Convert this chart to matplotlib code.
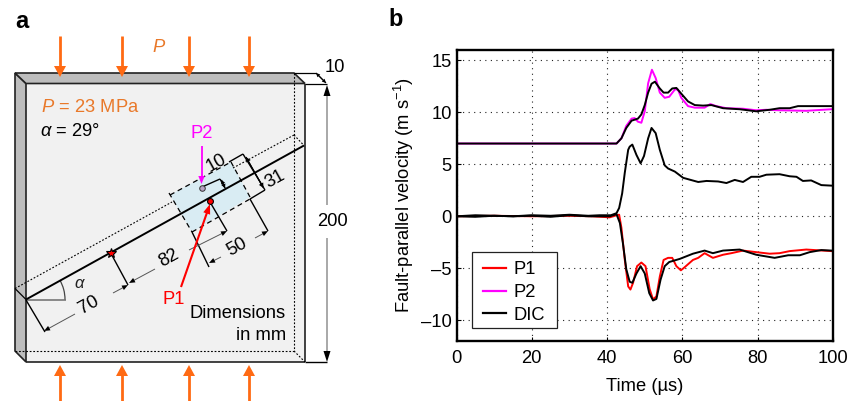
import numpy as np
import matplotlib
matplotlib.use("Agg")
import matplotlib.pyplot as plt
from matplotlib.patches import Polygon, Arc, Rectangle

plt.rcParams['font.family'] = ['Liberation Sans', 'DejaVu Sans']
plt.rcParams['mathtext.fontset'] = 'custom'
plt.rcParams['mathtext.rm'] = 'Liberation Sans'
plt.rcParams['mathtext.it'] = 'Liberation Sans:italic'
plt.rcParams['mathtext.default'] = 'regular'

# ---- data, panel b ----
t_p1 = [0, 10, 20, 30, 36, 40.7, 42.5, 43.2, 43.8, 44.7, 45.6, 46.2, 46.9, 47.96, 49.1, 50.2, 51.3, 52.2, 53.1, 54, 55,
        56.2, 57.3, 58.4, 59.6, 60.6, 62.8, 64.2, 65.9, 68.1, 70.8, 73, 76.1, 79.6, 83.2, 85.8, 88.5, 92.9, 99.6]
v_p1 = [0, 0.05, 0.0, 0.05, 0.0, -0.1, 0.1, 0.15, -1.1, -4.2, -6.75, -7.05, -6.4, -4.8, -4.45, -4.8, -7.0, -8.0, -7.7,
        -5.8, -4.2, -4.0, -4.0, -4.8, -5.2, -4.9, -4.2, -4.0, -3.55, -4.0, -3.7, -3.55, -3.3, -3.45, -3.6, -3.55,
        -3.35, -3.2, -3.35]
t_p2 = [0, 20, 40, 42.5, 43.8, 45.1, 46.5, 47.3, 48.2, 49.1, 50, 50.9, 51.9, 52.9, 54, 55.3, 56.5, 58, 58.8, 59.7,
        61.5, 63.3, 65.9, 67.4, 69, 71.7, 76.1, 79.6, 82.3, 85.8, 92.9, 99.6]
v_p2 = [7.0, 7.0, 7.0, 7.0, 7.5, 8.7, 9.4, 9.45, 9.1, 9.0, 10.1, 12.8, 14.1, 13.3, 11.9, 11.4, 11.5, 12.2, 12.2, 11.4,
        10.6, 10.45, 10.45, 10.8, 10.6, 10.4, 10.35, 10.2, 10.25, 10.2, 10.15, 10.3]
t_dic_top = [0, 20, 40, 42.5, 43.8, 45.1, 46.5, 48.2, 49.1, 50, 50.9, 51.8, 52.7, 54, 55, 56.2, 57.3, 58.4, 59.7, 61.5,
             63.3, 65.5, 67.7, 70.8, 75.2, 79.6, 83.2, 85.8, 88.5, 90.7, 94.7, 99.6]
v_dic_top = [7.0, 7.0, 7.0, 7.0, 7.5, 8.5, 9.2, 9.4, 9.8, 10.7, 11.9, 12.75, 12.95, 12.3, 11.9, 11.9, 12.3, 12.35, 11.8,
             11.05, 10.7, 10.65, 10.7, 10.4, 10.3, 10.1, 10.25, 10.4, 10.4, 10.6, 10.6, 10.6]
t_dic_mid = [0, 5, 10, 15, 20, 25, 30, 35, 38, 41, 42.5, 43.2, 44, 44.7, 45.6, 46, 46.7, 47.8, 48.9, 49.8, 50.9, 51.8,
             52.9, 54, 55.3, 56.2, 58, 60.2, 64.2, 66.4, 69.5, 71.7, 73.9, 76.1, 78.3, 80.5, 82.3, 85.8, 88.5, 90.3,
             92, 94.2, 96.9, 99.6]
v_dic_mid = [0.0, 0.1, 0.05, 0.0, 0.1, 0.05, 0.15, 0.05, 0.1, 0.1, 0.3, 0.8, 2.2, 4.2, 6.4, 6.7, 6.9, 5.9, 5.1, 5.8,
             7.5, 8.5, 8.0, 6.4, 4.9, 4.6, 4.3, 3.7, 3.3, 3.4, 3.35, 3.2, 3.5, 3.3, 3.8, 3.8, 4.0, 4.05, 3.85, 3.8,
             3.4, 3.45, 3.0, 2.95]
t_dic_low = [0, 5, 10, 15, 20, 25, 30, 35, 40.7, 42.5, 43.4, 44.2, 45.1, 46, 46.7, 47.8, 48.9, 50, 51.2, 52.2, 53.1,
             54.2, 55.3, 56.5, 59.3, 62.8, 65.9, 68.1, 70.8, 75.2, 79.6, 84.5, 88.1, 91.2, 93.8, 96.9, 99.6]
v_dic_low = [0.0, -0.05, 0.05, 0.0, 0.05, -0.05, 0.1, 0.0, 0.0, 0.2, -0.65, -2.6, -5.1, -6.3, -6.4, -5.5, -4.8, -5.5,
             -7.4, -8.1, -7.95, -6.1, -4.8, -4.4, -4.1, -3.6, -3.3, -3.55, -3.3, -3.2, -3.7, -4.0, -3.75, -3.75,
             -3.45, -3.25, -3.3]
x_ticks = [0, 20, 40, 60, 80, 100]
y_ticks = [-10, -5, 0, 5, 10, 15]
series_labels = ['P1', 'P2', 'DIC']

# ---- schematic geometry, panel a (figure pixels) ----
arrow_xs = [60, 122, 189, 249]
dim_labels = [('70', 89, 305), ('82', 169, 258), ('50', 237, 247), ('31', 275, 179), ('10', 216, 163)]

W, H = 848, 401
fig = plt.figure(figsize=(W / 100, H / 100), dpi=100)
FS = 13.2
ORANGE, ORANGE_T = '#ff6a13', '#e9792a'
RED, MAG = '#ff0000', '#ff00ff'

a = fig.add_axes([0, 0, 1, 1])
a.set_xlim(0, W); a.set_ylim(H, 0); a.axis('off')


def line(p, q, c='k', lw=1.0, ls='-', z=3):
    a.plot([p[0], q[0]], [p[1], q[1]], color=c, lw=lw, ls=ls, zorder=z, solid_capstyle='butt')


def head(tip, frm, c='k', hl=7, hw=3, z=5):
    tip, frm = np.array(tip, float), np.array(frm, float)
    u = (tip - frm) / np.linalg.norm(tip - frm)
    n = np.array([-u[1], u[0]])
    a.add_patch(Polygon([tip, tip - u * hl + n * hw, tip - u * hl - n * hw], closed=True, fc=c, ec='none', zorder=z))


def arrow(frm, tip, c='k', lw=1.0, hl=7, hw=3, z=5, hc=None):
    frm, tip = np.array(frm, float), np.array(tip, float)
    u = (tip - frm) / np.linalg.norm(tip - frm)
    line(frm, tip - u * (hl - 1), c, lw, z=z)
    head(tip, frm, hc or c, hl, hw, z)


DOT = (0, (1.6, 1.6))
DASH = (0, (4, 3))
GR = '#555555'

# block
a.add_patch(Polygon([(26, 83.5), (305, 83.5), (305, 362), (26, 362)], fc='#f1f1f1', ec='none', zorder=1))
a.add_patch(Polygon([(15, 73), (26, 83.5), (26, 362), (15, 351)], fc='#bdbdbd', ec='#222222', lw=1.2, zorder=2))
a.add_patch(Polygon([(15, 73), (294, 73), (305, 83.5), (26, 83.5)], fc='#bdbdbd', ec='#222222', lw=1.2, zorder=2))
line((305, 83.5), (305, 362), '#222222', 1.2)
line((26, 362), (305, 362), '#222222', 1.2)
line((294, 73), (294, 351), 'k', 0.8, DOT)
line((15, 351), (294, 351), 'k', 0.8, DOT)
line((294, 351), (305, 362), 'k', 0.8, DOT)
a.add_patch(Polygon([(170, 195), (231, 162), (250, 197), (192, 232)], fc='#d9ecf3', ec='none', zorder=2))

# fault and dashed planes
line((15, 288.5), (26, 299.5), 'k', 0.9)
line((26, 299.5), (304, 145.5), 'k', 1.4, z=4)
line((15, 288.5), (172, 202), 'k', 0.8, DOT)
line((233, 168), (294, 135), 'k', 0.8, DOT)
line((294, 135), (304, 145.5), 'k', 0.8, DOT)
line((170, 195), (231, 162), 'k', 0.9, DASH)
line((192, 232), (250, 199), 'k', 0.9, DASH)
line((169, 193), (192, 232), 'k', 0.9, DASH)
line((231, 162), (250, 197), 'k', 0.9, DASH)

# angle
line((26, 299.5), (66, 299.5), '#777777', 1.2)
a.add_patch(Arc((26, 299.5), 78, 78, theta1=-30, theta2=0, color='#444444', lw=0.9, zorder=3))

# dimension lines
line((26, 300), (45, 332))
line((110.7, 253), (128, 285))
line((210, 202), (227, 231))
line((192, 232), (209, 267))
line((250, 199), (268, 231))
line((229, 162), (243, 154))
line((243, 154), (265, 190))
line((250, 199), (265, 190))
line((202, 187), (220, 179))
line((220, 179), (225, 188))
HK = dict(lw=0.7, hl=6, hw=2.5, hc='k')
arrow((75, 314), (44, 331), GR, **HK)
arrow((113, 293), (128, 285), GR, **HK)
arrow((155, 269), (129, 283), GR, **HK)
arrow((189, 250), (227, 231), GR, **HK)
arrow((221, 257), (209, 263), GR, **HK)
arrow((255, 238), (268, 231), GR, **HK)
arrow((263.5, 188), (246, 157), 'k', 0.8, 5, 2.5)
arrow((246, 157), (263.5, 188), 'k', 0.8, 5, 2.5)
arrow((225, 188), (221.5, 180), 'k', 0.8, 4, 2.2)
arrow((221.5, 180), (225, 188), 'k', 0.8, 4, 2.2)

# outer dimensions
line((294, 72.5), (316, 72.5), 'k', 0.9)
line((305, 83.5), (327, 83.5), 'k', 0.9)
arrow((326, 83), (316, 73), 'k', 0.8, 4, 2)
arrow((316, 73), (326, 83), 'k', 0.8, 4, 2)
line((305, 362), (327, 362), 'k', 1.0)
arrow((327, 205), (327, 85), '#999999', 1.2, 11, 3.5, z=3, hc='k')
arrow((327, 238), (327, 362), '#999999', 1.2, 11, 3.5, z=3, hc='k')

# load arrows
for x in arrow_xs:
    arrow((x, 36), (x, 77), ORANGE, 2.0, 11, 6)
    arrow((x, 401), (x, 365), ORANGE, 2.0, 11, 6)

# points
arrow((201.5, 146), (201.5, 184), MAG, 1.3, 8, 3.2, z=6)
a.plot([202], [188], 'o', ms=4, mfc='#b7a2c4', mec='#333333', mew=0.7, zorder=6)
a.plot([110.7], [252.5], marker='*', ms=7, mfc=RED, mec='k', mew=0.8, zorder=6)
a.plot([210], [201], 'o', ms=4.2, mfc=RED, mec='k', mew=0.8, zorder=6)
arrow((181, 287), (210, 204), RED, 1.5, 10, 3.6, z=6)

# texts
tk = dict(ha='center', va='center', fontsize=FS, zorder=8)
a.text(15, 21, 'a', ha='left', va='center', fontsize=17, fontweight='bold')
a.text(388, 20, 'b', ha='left', va='center', fontsize=17, fontweight='bold')
a.text(159, 48, 'P', color=ORANGE_T, style='italic', **tk)
a.text(41, 107, '$\\mathit{P}$ = 23 MPa', color=ORANGE_T, ha='left', va='center', fontsize=FS)
a.text(40, 132, '$\\mathit{\\alpha}$ = 29°', color='k', ha='left', va='center', fontsize=FS,
       fontfamily=['Liberation Sans', 'DejaVu Sans'])
a.text(201.5, 133, 'P2', color=MAG, **tk)
a.text(174, 300, 'P1', color=RED, **tk)
a.text(80, 284, '$\\mathit{\\alpha}$', color='#222222', ha='center', va='center', fontsize=12)
a.text(335, 67, '10', **tk)
a.text(332, 222, '200', **tk)
a.text(286, 313, 'Dimensions', ha='right', va='center', fontsize=FS)
a.text(286, 336, 'in mm', ha='right', va='center', fontsize=FS)
for s, x, y in dim_labels:
    a.text(x, y, s, rotation=29, rotation_mode='anchor', **tk)

# ---- panel b ----
L, R, T, B = 456.5, 833, 50, 341
ax = fig.add_axes([L / W, 1 - B / H, (R - L) / W, (B - T) / H])
ax.patch.set_alpha(0)
ax.plot(t_p1, v_p1, color=RED, lw=1.4, label=series_labels[0], solid_joinstyle='round')
ax.plot(t_p2, v_p2, color=MAG, lw=1.4, label=series_labels[1], solid_joinstyle='round')
ax.plot(t_dic_low, v_dic_low, color='k', lw=1.4, label=series_labels[2], solid_joinstyle='round')
ax.plot(t_dic_mid, v_dic_mid, color='k', lw=1.4)
ax.plot(t_dic_top, v_dic_top, color='k', lw=1.4)
ax.set_xlim(0, 100); ax.set_ylim(-12, 16)
ax.set_xticks(x_ticks); ax.set_yticks(y_ticks)
ax.set_yticklabels([('\u2013%d' % -v) if v < 0 else str(v) for v in y_ticks])
ax.tick_params(direction='in', length=3, width=0.8, labelsize=FS, pad=3.4)
ax.tick_params(axis='x', pad=6.3)
ax.grid(True, color='#222222', lw=0.8, ls=(0, (1, 4)))
ax.set_axisbelow(True)
for s in ax.spines.values():
    s.set_linewidth(1.7)
ax.set_xlabel('Time (\u00b5s)', fontsize=FS, labelpad=8)
ax.set_ylabel('Fault-parallel velocity (m s$^{\u22121}$)', fontsize=FS)
ax.yaxis.set_label_coords((416 - L) / (R - L), 0.5)

# legend frame drawn as its own box so that the rows can sit centred in it
ax.add_patch(Rectangle(((471.7 - L) / (R - L), (B - 327.7) / (B - T)), 85 / (R - L), 76 / (B - T),
                       transform=ax.transAxes, fc='white', ec='#222222', lw=0.9, zorder=4.5))
leg = ax.legend(loc='upper left', bbox_to_anchor=((483 - L) / (R - L), (B - 261.4) / (B - T)),
                borderaxespad=0, frameon=False, fontsize=FS, borderpad=0,
                handlelength=1.25, handletextpad=0.44, labelspacing=0.31)
leg.set_zorder(5)
for h in leg.get_lines():
    h.set_linewidth(1.6)

fig.savefig('out.png', dpi=100)
